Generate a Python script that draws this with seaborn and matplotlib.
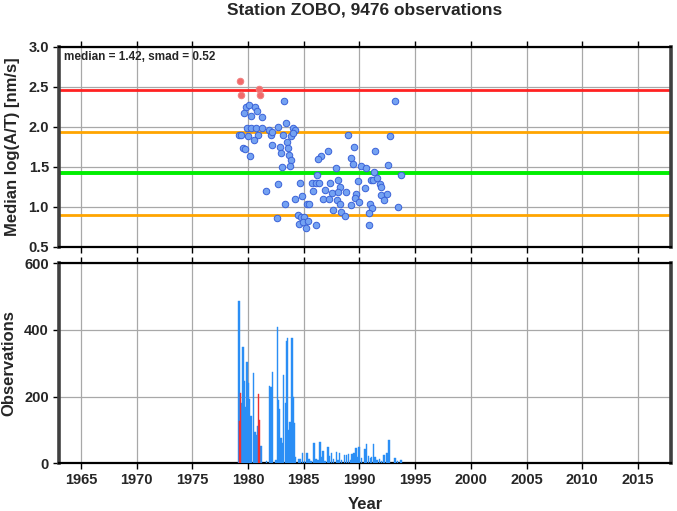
import numpy as np
import pandas as pd
import matplotlib
matplotlib.use("Agg")
import matplotlib.pyplot as plt
import seaborn as sns

# ---------------- data ----------------
title = "Station ZOBO, 9476 observations"
median_val = 1.42
smad_val = 0.52

# outlier points (red)
red_year = [1979.28, 1979.34, 1980.96, 1981.05]
red_val = [2.57, 2.40, 2.47, 2.40]

# regular points (blue)
blue_year = [
    1979.79, 1980.06, 1980.63, 1980.81, 1979.61, 1980.27, 1981.23, 1983.23, 1983.38,
    1979.88, 1980.24, 1980.69, 1981.29, 1981.92, 1979.17, 1979.37, 1979.97, 1980.87,
    1982.06, 1982.19, 1982.67, 1983.14, 1983.86, 1984.04, 1984.17, 1983.99, 1980.51,
    1982.13, 1982.85, 1983.45, 1983.56, 1979.50, 1979.70, 1982.96, 1983.65, 1980.13,
    1983.81, 1983.72, 1983.03, 1982.73, 1981.65, 1984.70, 1984.88, 1984.22, 1983.29,
    1982.58, 1984.49, 1984.73, 1985.00, 1984.58, 1984.94, 1985.18, 1985.42, 1985.27,
    1985.51,
    1993.23, 1989.01, 1992.72, 1989.55, 1987.18, 1991.37, 1986.59, 1986.32, 1989.28,
    1989.40, 1992.57, 1987.85, 1990.12, 1990.63, 1986.17, 1991.26, 1991.01, 1991.19,
    1991.53, 1993.73, 1989.87, 1988.03, 1985.75, 1986.10, 1986.41, 1987.33, 1991.80,
    1991.97, 1988.29, 1990.54, 1986.89, 1985.83, 1988.77, 1989.69, 1987.51, 1988.11,
    1991.91, 1992.45, 1986.77, 1987.27, 1987.94, 1989.61, 1992.24, 1988.23, 1989.96,
    1989.22, 1990.95, 1993.50, 1987.60, 1991.10, 1988.38, 1990.83, 1988.68, 1986.10,
    1990.90,
]
blue_val = [
    2.25, 2.27, 2.25, 2.20, 2.17, 2.14, 2.12, 2.32, 2.05,
    1.99, 1.99, 1.99, 1.99, 1.96, 1.90, 1.90, 1.89, 1.90,
    1.90, 1.93, 2.00, 1.90, 1.89, 1.98, 1.96, 1.92, 1.83,
    1.77, 1.75, 1.81, 1.73, 1.73, 1.72, 1.67, 1.65, 1.63,
    1.58, 1.51, 1.50, 1.28, 1.20, 1.30, 1.14, 1.10, 1.03,
    0.86, 0.90, 0.87, 0.87, 0.79, 0.81, 0.74, 0.82, 1.04,
    1.04,
    2.32, 1.90, 1.88, 1.75, 1.70, 1.70, 1.63, 1.60, 1.61,
    1.54, 1.52, 1.49, 1.51, 1.49, 1.40, 1.43, 1.34, 1.33,
    1.36, 1.40, 1.32, 1.34, 1.30, 1.30, 1.30, 1.30, 1.28,
    1.25, 1.25, 1.24, 1.21, 1.20, 1.18, 1.16, 1.17, 1.18,
    1.15, 1.16, 1.10, 1.10, 1.09, 1.11, 1.09, 1.04, 1.06,
    1.02, 1.03, 1.00, 0.96, 0.98, 0.93, 0.92, 0.88, 0.77,
    0.77,
]

# observation counts per time bin
bar_year_red = [1979.25, 1979.32, 1980.93, 1981.02]
bar_count_red = [127, 210, 208, 130]

bar_year_blue = [
    1979.19, 1979.45, 1979.55, 1979.68, 1979.79, 1979.91, 1980.04, 1980.15, 1980.27,
    1980.51, 1980.63, 1980.75, 1980.84, 1981.17, 1981.65, 1981.92, 1982.04, 1982.19,
    1982.51, 1982.64, 1982.73, 1982.82, 1982.94, 1983.05, 1983.20, 1983.36, 1983.47,
    1983.56, 1983.68, 1983.77, 1983.95, 1984.04, 1984.17, 1984.28, 1984.58,
    1984.70, 1984.88, 1985.06, 1985.30, 1985.48, 1985.66, 1985.90, 1986.08, 1986.26,
    1986.44, 1986.62, 1986.73, 1986.91, 1987.18, 1987.33, 1987.51, 1987.69, 1987.94,
    1988.08, 1988.23, 1988.38, 1988.68, 1988.83, 1989.04, 1989.19, 1989.34, 1989.49,
    1989.67, 1989.78, 1989.96, 1990.18, 1990.50, 1990.63, 1990.81, 1990.99, 1991.10,
    1991.28, 1991.40, 1991.58, 1991.82, 1992.00, 1992.21, 1992.48, 1992.66, 1993.20,
    1993.41, 1993.71,
]
bar_count_blue = [
    487, 180, 350, 248, 170, 305, 242, 192, 142,
    270, 95, 85, 112, 53, 8, 232, 228, 275,
    10, 408, 190, 162, 75, 60, 265, 180, 368,
    375, 100, 125, 375, 200, 120, 20, 12,
    12, 30, 8, 32, 12, 8, 60, 12, 10,
    64, 18, 37, 8, 49, 22, 30, 12, 35,
    10, 30, 10, 25, 25, 28, 10, 28, 30,
    45, 20, 48, 15, 42, 58, 22, 15, 18,
    58, 20, 10, 12, 8, 25, 30, 70, 15,
    8, 10,
]

year_ticks = [1965, 1970, 1975, 1980, 1985, 1990, 1995, 2000, 2005, 2010, 2015]

# ---------------- style ----------------
sns.set_theme(style="white")
plt.rcParams["font.family"] = ["Liberation Sans", "DejaVu Sans"]
plt.rcParams["font.weight"] = "bold"

fig = plt.figure(figsize=(6.77, 5.11), dpi=100)
ax1 = fig.add_axes([0.0867, 0.5172, 0.9050, 0.3914])
ax2 = fig.add_axes([0.0867, 0.0934, 0.9050, 0.3913])

grid_col = "#a8a8a8"

def frame(ax):
    for side in ["left", "right"]:
        ax.spines[side].set_color("#404040")
        ax.spines[side].set_linewidth(2.6)
    for side in ["top", "bottom"]:
        ax.spines[side].set_color("black")
        ax.spines[side].set_linewidth(1.6)
    ax.set_xlim(1963, 2018)
    ax.set_xticks(year_ticks)
    ax.grid(True, color=grid_col, linewidth=0.9)
    ax.set_axisbelow(True)
    ax.tick_params(axis="both", direction="out", length=4, width=1.0,
                   color="black", labelsize=10.5, pad=3)
    ax.tick_params(axis="x", top=True, bottom=True)
    ax.tick_params(axis="y", left=True, right=False)

# ---------- top panel ----------
df_blue = pd.DataFrame({"year": blue_year, "val": blue_val})
df_red = pd.DataFrame({"year": red_year, "val": red_val})

ax1.axhline(median_val + 2 * smad_val, color="#ff2222", linewidth=2.0, zorder=2)
ax1.axhline(median_val + smad_val, color="#ffa500", linewidth=2.0, zorder=2)
ax1.axhline(median_val, color="#00ee00", linewidth=2.8, zorder=2)
ax1.axhline(median_val - smad_val, color="#ffa500", linewidth=2.0, zorder=2)

sns.scatterplot(data=df_blue, x="year", y="val", ax=ax1, s=22,
                color="#74a2f2", edgecolor="#3a62d8", linewidth=0.7, zorder=3)
sns.scatterplot(data=df_red, x="year", y="val", ax=ax1, s=22,
                color="#f26a6a", edgecolor="#f08080", linewidth=0.7, zorder=3)

ax1.set_ylim(0.5, 3.0)
ax1.set_yticks([0.5, 1.0, 1.5, 2.0, 2.5, 3.0])
ax1.set_yticklabels(["0.5", "1.0", "1.5", "2.0", "2.5", "3.0"])
frame(ax1)
ax1.set_xticklabels([])
ax1.set_xlabel("")
ax1.set_ylabel("Median log(A/T) [nm/s]", fontsize=12, fontweight="bold", labelpad=6)
ax1.text(0.008, 0.978, f"median = {median_val:.2f}, smad = {smad_val:.2f}",
         transform=ax1.transAxes, ha="left", va="top", fontsize=8.5,
         fontweight="bold")
ax1.set_title(title, fontsize=12.5, fontweight="bold", pad=23)

# ---------- bottom panel ----------
ax2.bar(bar_year_blue, bar_count_blue, width=0.13, color="#2a8ef5",
        edgecolor="#2a8ef5", linewidth=0.3, zorder=3)
ax2.bar(bar_year_red, bar_count_red, width=0.09, color="#ee3030",
        edgecolor="#ee3030", linewidth=0.3, zorder=4)
ax2.set_ylim(0, 600)
ax2.set_yticks([0, 200, 400, 600])
frame(ax2)
ax2.set_xticklabels([str(y) for y in year_ticks])
ax2.set_xlabel("Year", fontsize=12, fontweight="bold", labelpad=7)
ax2.set_ylabel("Observations", fontsize=12, fontweight="bold", labelpad=6)

fig.savefig("out.png", dpi=100)
